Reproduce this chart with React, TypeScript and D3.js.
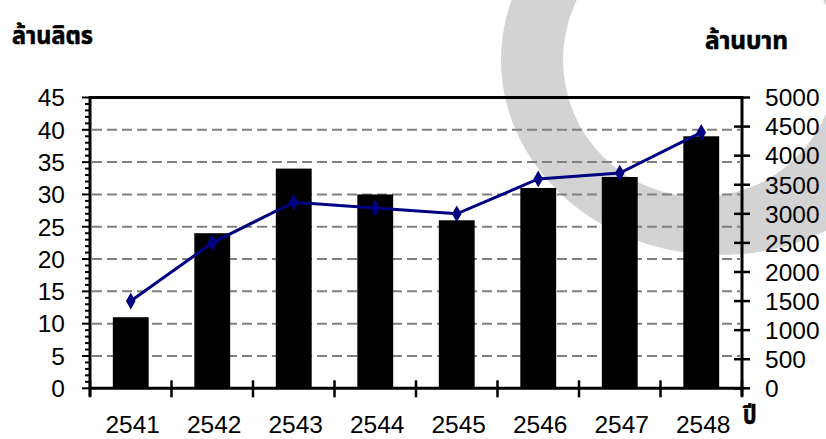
import React, { useLayoutEffect, useRef, useState } from "react";
import * as d3 from "d3";

// Annual volume (million litres, bars) and value (million baht, line)
const years = ["2541", "2542", "2543", "2544", "2545", "2546", "2547", "2548"];
const volume = [11, 24, 34, 30, 26, 31, 32.7, 39];
const value = [1500, 2500, 3200, 3100, 3000, 3600, 3700, 4400];
const leftTicks = d3.range(0, 46, 5);
const leftMinorTicks = d3.range(0, 46, 1);
const rightTicks = d3.range(0, 5001, 500);
const gridTicks = d3.range(5, 41, 5);

const leftTitle = "ล้านลิตร";
const rightTitle = "ล้านบาท";
const xTitle = "ปี";

const W = 826;
const H = 439;
const plot = { left: 90, right: 742, top: 97.5, bottom: 388.3 };

const numFont = "'Liberation Sans', Arial, sans-serif";
const thaiFont = "'Noto Sans Thai', 'Noto Sans', 'DejaVu Sans', sans-serif";

function ringPath(cx: number, cy: number, rx: number, ry: number) {
  return `M${cx - rx},${cy}A${rx},${ry} 0 1 0 ${cx + rx},${cy}A${rx},${ry} 0 1 0 ${cx - rx},${cy}Z`;
}

// Bold condensed title: squeezed horizontally to a fixed width
function FitText(props: { x: number; y: number; width: number; size: number; children: string }) {
  const ref = useRef<SVGTextElement>(null);
  const [sx, setSx] = useState(1);
  useLayoutEffect(() => {
    if (ref.current) {
      const w = ref.current.getBBox().width;
      if (w > 0) setSx(props.width / w);
    }
  }, [props.width, props.children]);
  return (
    <g transform={`translate(${props.x},${props.y}) scale(${sx},1)`}>
      <text
        ref={ref}
        x={0}
        y={0}
        fontFamily={thaiFont}
        fontWeight="bold"
        fontSize={props.size}
        fill="#000"
        stroke="#000"
        strokeWidth={0.6}
      >
        {props.children}
      </text>
    </g>
  );
}

export default function App() {
  const x = d3
    .scaleBand<string>()
    .domain(years)
    .range([plot.left, plot.right])
    .paddingInner(0.56)
    .paddingOuter(0.28);
  const xEdge = d3.scaleLinear().domain([0, years.length]).range([plot.left, plot.right]);
  const yL = d3.scaleLinear().domain([0, 45]).range([plot.bottom, plot.top]);
  const yR = d3.scaleLinear().domain([0, 5000]).range([plot.bottom, plot.top]);

  const cx = (d: string) => (x(d) as number) + x.bandwidth() / 2;

  const line = d3
    .line<number>()
    .x((_, i) => cx(years[i]))
    .y((v) => yR(v));

  const diamond = d3.symbol().type(d3.symbolDiamond).size(80)();

  // decorative grey ring behind the chart
  const ring = ringPath(720, 60, 219, 195) + ringPath(700, 60, 137, 137);

  return (
    <svg
      width={W}
      height={H}
      style={{ position: "absolute", left: 0, top: 0, background: "#fff" }}
    >
      <path d={ring} fill="#d3d3d3" fillRule="evenodd" />

      {/* horizontal dashed gridlines */}
      {gridTicks.map((t) => (
        <line
          key={"g" + t}
          x1={plot.left + 2}
          x2={plot.right - 2}
          y1={yL(t)}
          y2={yL(t)}
          stroke="#808080"
          strokeWidth={2}
          strokeDasharray="10 5"
        />
      ))}

      {/* bars */}
      {volume.map((v, i) => (
        <rect
          key={"b" + i}
          x={x(years[i])}
          width={x.bandwidth()}
          y={yL(v)}
          height={yL(0) - yL(v)}
          fill="#000"
        />
      ))}

      {/* value line */}
      <path d={line(value) || ""} fill="none" stroke="#000080" strokeWidth={3} />
      {value.map((v, i) => (
        <path
          key={"m" + i}
          d={diamond || ""}
          transform={`translate(${cx(years[i])},${yR(v)})`}
          fill="#000080"
        />
      ))}

      {/* frame and axes */}
      <line x1={plot.left} x2={plot.right} y1={plot.top} y2={plot.top} stroke="#000" strokeWidth={3} />
      <line x1={plot.left} x2={plot.right} y1={plot.bottom} y2={plot.bottom} stroke="#000" strokeWidth={3} />
      <line x1={plot.left} x2={plot.left} y1={plot.top - 1.5} y2={plot.bottom + 8} stroke="#000" strokeWidth={3} />
      <line x1={plot.right} x2={plot.right} y1={plot.top - 1.5} y2={plot.bottom + 8} stroke="#000" strokeWidth={3} />

      {/* left axis ticks */}
      {leftMinorTicks.map((t) => (
        <line
          key={"lm" + t}
          x1={t % 5 === 0 ? plot.left - 8 : plot.left - 5}
          x2={plot.left}
          y1={yL(t)}
          y2={yL(t)}
          stroke="#000"
          strokeWidth={2}
        />
      ))}
      {leftTicks.map((t) => (
        <text
          key={"lt" + t}
          x={65}
          y={yL(t)}
          dy="0.36em"
          textAnchor="end"
          fontFamily={numFont}
          fontSize={24.5}
          fill="#000"
        >
          {t}
        </text>
      ))}

      {/* right axis ticks */}
      {rightTicks.map((t) => (
        <line
          key={"rt" + t}
          x1={plot.right - 8}
          x2={plot.right + 8}
          y1={yR(t)}
          y2={yR(t)}
          stroke="#000"
          strokeWidth={2.5}
        />
      ))}
      {rightTicks.map((t) => (
        <text
          key={"rl" + t}
          x={765}
          y={yR(t)}
          dy="0.36em"
          textAnchor="start"
          fontFamily={numFont}
          fontSize={24.5}
          fill="#000"
        >
          {t}
        </text>
      ))}

      {/* category boundary ticks */}
      {d3.range(0, years.length + 1).map((i) => (
        <line
          key={"xt" + i}
          x1={xEdge(i)}
          x2={xEdge(i)}
          y1={plot.bottom - 8}
          y2={plot.bottom + 9}
          stroke="#000"
          strokeWidth={2.5}
        />
      ))}
      {years.map((yr) => (
        <text
          key={"xl" + yr}
          x={cx(yr) + 2}
          y={433}
          textAnchor="middle"
          fontFamily={numFont}
          fontSize={24.5}
          fill="#000"
        >
          {yr}
        </text>
      ))}

      {/* axis titles */}
      <FitText x={12} y={44} width={81} size={25}>
        {leftTitle}
      </FitText>
      <FitText x={705} y={49} width={83} size={25}>
        {rightTitle}
      </FitText>
      <FitText x={743} y={424} width={14} size={26}>
        {xTitle}
      </FitText>
    </svg>
  );
}
